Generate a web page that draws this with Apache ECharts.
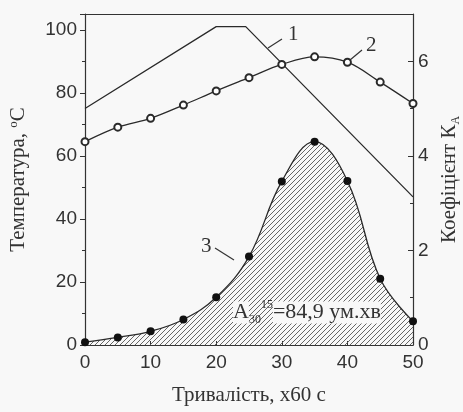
<!DOCTYPE html>
<html>
<head>
<meta charset="utf-8">
<script src="https://cdn.jsdelivr.net/npm/echarts@6/dist/echarts.min.js"></script>
<style>
  html, body { margin: 0; padding: 0; background: #f8f8f8; }
  #chart { width: 463px; height: 412px; }
</style>
</head>
<body>
<div id="chart"></div>
<script>
  // тривалість, x60 c
  var timeTicks = [0, 5, 10, 15, 20, 25, 30, 35, 40, 45, 50];
  // крива 1 - температура (ламана)
  var curve1X = [0, 20, 24.5, 50];
  var curve1Y = [75, 101, 101, 47];
  // крива 2 - температура (точки)
  var curve2Y = [64.5, 69.1, 71.9, 76.1, 80.6, 84.8, 89.0, 91.4, 89.7, 83.4, 76.6];
  // крива 3 - коефіцієнт K_A
  var curve3Y = [0.06, 0.16, 0.29, 0.54, 1.01, 1.87, 3.46, 4.30, 3.47, 1.40, 0.50];

  var pair = function (xs, ys) {
    var out = [];
    for (var i = 0; i < xs.length; i++) out.push([xs[i], ys[i]]);
    return out;
  };

  // штрихування під кривою 3
  var hatch = document.createElement('canvas');
  hatch.width = 5; hatch.height = 5;
  var ctx = hatch.getContext('2d');
  ctx.strokeStyle = '#555';
  ctx.lineWidth = 0.9;
  ctx.beginPath();
  ctx.moveTo(0, 5); ctx.lineTo(5, 0);
  ctx.moveTo(-1, 1); ctx.lineTo(1, -1);
  ctx.moveTo(4, 6); ctx.lineTo(6, 4);
  ctx.stroke();

  var tickFont = { fontFamily: 'Liberation Sans', fontSize: 19, color: '#333' };
  var nameFont = { fontFamily: 'Liberation Serif', fontSize: 21, color: '#333' };
  var axisLine = { show: true, onZero: false, lineStyle: { color: '#333', width: 1.2 } };

  var chart = echarts.init(document.getElementById('chart'));
  var option = {
    backgroundColor: '#f8f8f8',
    animation: false,
    grid: { left: 85, right: 50, top: 14, bottom: 67, outerBoundsMode: 'none', containLabel: false },
    xAxis: [{
      type: 'value', min: 0, max: 50, interval: 10,
      axisLine: axisLine,
      axisTick: { inside: true, length: 4, lineStyle: { color: '#333' } },
      axisLabel: Object.assign({ margin: 8 }, tickFont),
      splitLine: { show: false },
      name: 'Тривалість, х60 с',
      nameLocation: 'middle', nameGap: 40,
      nameTextStyle: nameFont
    }, {
      type: 'value', position: 'top', min: 0, max: 50,
      axisLine: axisLine, axisTick: { show: false },
      axisLabel: { show: false }, splitLine: { show: false }
    }],
    yAxis: [{
      type: 'value', min: 0, max: 105, interval: 20,
      axisLine: axisLine,
      axisTick: { length: 5, lineStyle: { color: '#333' } },
      minorTick: { show: true, splitNumber: 2, length: 3, lineStyle: { color: '#333' } },
      axisLabel: Object.assign({ margin: 8, showMaxLabel: false }, tickFont),
      splitLine: { show: false },
      name: 'Температура, {sup|o}С',
      nameLocation: 'middle', nameGap: 56,
      nameTextStyle: Object.assign({
        rich: { sup: { fontFamily: 'Liberation Serif', fontSize: 13, verticalAlign: 'top', padding: [0, 0, 9, 0] } }
      }, nameFont)
    }, {
      type: 'value', min: 0, max: 7, interval: 2, position: 'right',
      axisLine: axisLine,
      axisTick: { inside: true, length: 5, lineStyle: { color: '#333' } },
      minorTick: { show: true, splitNumber: 2, length: 3, lineStyle: { color: '#333' } },
      axisLabel: Object.assign({ margin: 5, showMaxLabel: false }, tickFont),
      splitLine: { show: false },
      name: 'Коефіцієнт К{sub|A}',
      nameLocation: 'middle', nameGap: 24, nameRotate: 90,
      nameTextStyle: Object.assign({
        rich: { sub: { fontFamily: 'Liberation Serif', fontSize: 12, padding: [11, 0, 0, 0] } }
      }, nameFont)
    }],
    series: [{
      name: '1', type: 'line', xAxisIndex: 0, yAxisIndex: 0,
      data: pair(curve1X, curve1Y),
      showSymbol: false,
      lineStyle: { color: '#2a2a2a', width: 1.3 }
    }, {
      name: '2', type: 'line', xAxisIndex: 0, yAxisIndex: 0,
      data: pair(timeTicks, curve2Y),
      smooth: 0.35,
      symbol: 'emptyCircle', symbolSize: 7,
      itemStyle: { color: '#2a2a2a', borderWidth: 1.4 },
      lineStyle: { color: '#2a2a2a', width: 1.3 }
    }, {
      name: '3', type: 'line', xAxisIndex: 0, yAxisIndex: 1,
      data: pair(timeTicks, curve3Y),
      smooth: 0.4,
      symbol: 'circle', symbolSize: 8,
      itemStyle: { color: '#111' },
      lineStyle: { color: '#2a2a2a', width: 1.3 },
      areaStyle: { color: { image: hatch, repeat: 'repeat' }, opacity: 1 },
      z: 1
    }],
    graphic: [
      { type: 'text', left: 288, top: 24, style: { text: '1', font: '21px "Liberation Serif"', fill: '#333' } },
      { type: 'line', shape: { x1: 268, y1: 48, x2: 282, y2: 39 }, style: { stroke: '#333', lineWidth: 1.2 } },
      { type: 'text', left: 366, top: 35, style: { text: '2', font: '21px "Liberation Serif"', fill: '#333' } },
      { type: 'line', shape: { x1: 350, y1: 60, x2: 362, y2: 50 }, style: { stroke: '#333', lineWidth: 1.2 } },
      { type: 'text', left: 201, top: 236, style: { text: '3', font: '21px "Liberation Serif"', fill: '#333' } },
      { type: 'line', shape: { x1: 215, y1: 248, x2: 234, y2: 260 }, style: { stroke: '#333', lineWidth: 1.2 } },
      {
        type: 'text', left: 233, top: 299, z: 10,
        style: {
          text: '{a|A}{s|30}{p|15}{t|=84,9 ум.хв}',
          rich: {
            a: { fontFamily: 'Liberation Serif', fontSize: 22, fill: '#333', backgroundColor: '#f8f8f8' },
            s: { fontFamily: 'Liberation Serif', fontSize: 12, fill: '#333', padding: [15, 0, 0, 0] },
            p: { fontFamily: 'Liberation Serif', fontSize: 12, fill: '#333', padding: [0, 0, 15, 0] },
            t: { fontFamily: 'Liberation Serif', fontSize: 22, fill: '#333', backgroundColor: '#f8f8f8' }
          }
        }
      }
    ]
  };
  chart.setOption(option);
</script>
</body>
</html>
